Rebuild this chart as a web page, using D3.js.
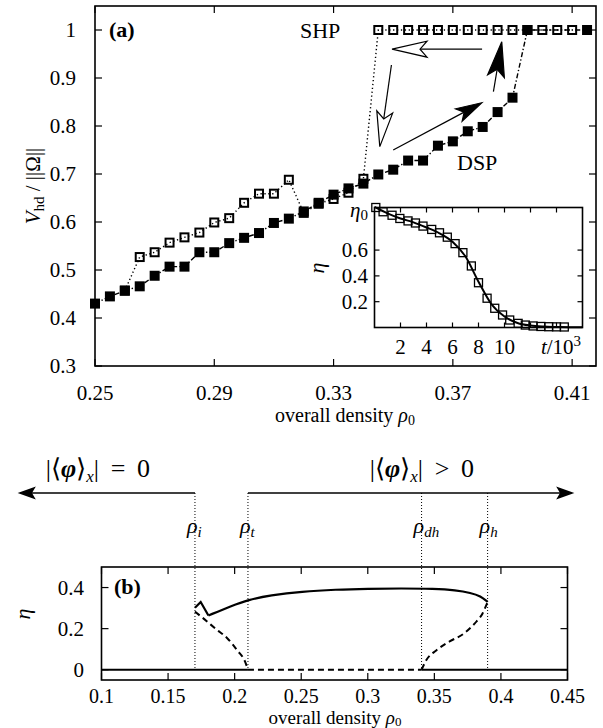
<!DOCTYPE html>
<html>
<head>
<meta charset="utf-8">
<script src="https://cdn.jsdelivr.net/npm/d3@7"></script>
<style>
body { margin: 0; background: #fff; }
svg { display: block; }
text { font-family: "Liberation Serif", "Times New Roman", serif; fill: #000; }
</style>
</head>
<body>
<svg width="603" height="728"></svg>
<script>
// panel (a): hysteresis loop
var dspRho = [0.25, 0.255, 0.26, 0.265, 0.27, 0.275, 0.28, 0.285, 0.29, 0.295, 0.30, 0.305, 0.31, 0.315, 0.32, 0.325, 0.33, 0.335, 0.34, 0.345, 0.35, 0.355, 0.36, 0.365, 0.37, 0.375, 0.38, 0.385, 0.39, 0.395, 0.415]
var dspV = [0.43, 0.445, 0.457, 0.466, 0.488, 0.507, 0.507, 0.537, 0.537, 0.556, 0.567, 0.577, 0.598, 0.607, 0.622, 0.640, 0.657, 0.670, 0.680, 0.699, 0.709, 0.728, 0.728, 0.759, 0.768, 0.789, 0.798, 0.829, 0.859, 1.0, 1.0]

var shpRho = [0.26, 0.265, 0.27, 0.275, 0.28, 0.285, 0.29, 0.295, 0.30, 0.305, 0.31, 0.315, 0.32, 0.325, 0.33, 0.335, 0.34, 0.345, 0.35, 0.355, 0.36, 0.365, 0.37, 0.375, 0.38, 0.385, 0.39, 0.395, 0.40, 0.405, 0.41]
var shpV = [0.457, 0.527, 0.537, 0.557, 0.568, 0.578, 0.599, 0.608, 0.640, 0.659, 0.659, 0.688, 0.619, 0.638, 0.648, 0.661, 0.690, 1.0, 1.0, 1.0, 1.0, 1.0, 1.0, 1.0, 1.0, 1.0, 1.0, 1.0, 1.0, 1.0, 1.0]

var xTicksA = [0.25, 0.29, 0.33, 0.37, 0.41]
var yTicksA = [0.3, 0.4, 0.5, 0.6, 0.7, 0.8, 0.9, 1.0]

// inset: eta(t)
var insetT = [0.1, 0.66, 1.35, 1.95, 2.58, 3.15, 3.73, 4.4, 5.0, 5.6, 6.2, 6.8, 7.45, 8.0, 8.66, 9.25, 9.85, 10.4, 11.05, 11.6, 12.2, 12.8, 13.4, 14.0, 14.6]
var insetEta = [0.93, 0.897, 0.87, 0.845, 0.826, 0.81, 0.786, 0.76, 0.734, 0.70, 0.65, 0.58, 0.477, 0.347, 0.227, 0.149, 0.097, 0.058, 0.032, 0.019, 0.012, 0.008, 0.006, 0.005, 0.004]
var fitT = [0, 1, 2, 3, 4, 5, 6, 7, 8, 9, 10, 11, 12, 13, 14, 15, 16]
var fitEta = [0.935, 0.885, 0.845, 0.815, 0.775, 0.73, 0.665, 0.55, 0.355, 0.18, 0.085, 0.035, 0.015, 0.007, 0.004, 0.002, 0.001]
var insetXTicks = [2, 4, 6, 8, 10, 12, 14]
var insetXLabels = [2, 4, 6, 8, 10]
var insetYTicks = [0.2, 0.4, 0.6]

// arrows of panel (a), in data units
var loopArrows = [
    {x1: 0.3798, y1: 0.960, x2: 0.3496, y2: 0.960, filled: false, len: 35, half: 8, notch: 7},
    {x1: 0.3494, y1: 0.927, x2: 0.3455, y2: 0.757, filled: false, len: 35, half: 8, notch: 7},
    {x1: 0.3500, y1: 0.750, x2: 0.3797, y2: 0.8485, filled: true, len: 26, half: 7, notch: 6},
    {x1: 0.3836, y1: 0.8715, x2: 0.3864, y2: 0.9756, filled: true, len: 35, half: 8.5, notch: 7}
]

// panel (b): bifurcation diagram
var stableRho = [0.1702, 0.1745, 0.1803, 0.1977, 0.21, 0.2267, 0.2505, 0.276, 0.30, 0.325, 0.35, 0.366, 0.3775, 0.3847, 0.39]
var stableEta = [0.302, 0.33, 0.264, 0.311, 0.34, 0.362, 0.381, 0.39, 0.394, 0.396, 0.394, 0.387, 0.374, 0.358, 0.33]
var unstLeftRho = [0.1702, 0.1774, 0.186, 0.1948, 0.202, 0.2079, 0.21]
var unstLeftEta = [0.283, 0.245, 0.198, 0.151, 0.094, 0.038, 0]
var unstRightRho = [0.3404, 0.344, 0.3514, 0.3615, 0.3717, 0.3804, 0.3862, 0.39]
var unstRightEta = [0, 0.047, 0.094, 0.138, 0.174, 0.226, 0.274, 0.33]
var critRho = [0.1702, 0.21, 0.3404, 0.39]
var critNames = ['i', 't', 'dh', 'h']
var xTicksB = [0.1, 0.15, 0.2, 0.25, 0.3, 0.35, 0.4, 0.45]
var yTicksB = [0, 0.2, 0.4]

var svg = d3.select('svg')

function pts (xs, ys) {
    return xs.map(function (d, i) { return [d, ys[i]] })
}

function ticks (g, x, y, xt, yt, len) {
    var x0 = x.range()[0], x1 = x.range()[1]
    var y0 = y.range()[0], y1 = y.range()[1]
    xt.forEach(function (v) {
        g.append('line').attr('x1', x(v)).attr('x2', x(v)).attr('y1', y0).attr('y2', y0 - len)
        g.append('line').attr('x1', x(v)).attr('x2', x(v)).attr('y1', y1).attr('y2', y1 + len)
    })
    yt.forEach(function (v) {
        g.append('line').attr('y1', y(v)).attr('y2', y(v)).attr('x1', x0).attr('x2', x0 + len)
        g.append('line').attr('y1', y(v)).attr('y2', y(v)).attr('x1', x1).attr('x2', x1 - len)
    })
    g.selectAll('line').attr('stroke', '#000').attr('stroke-width', 1.2)
    g.append('rect')
        .attr('x', x0).attr('y', y1)
        .attr('width', x1 - x0).attr('height', y0 - y1)
        .attr('fill', 'none').attr('stroke', '#000').attr('stroke-width', 1.6)
}

function arrow (g, sx, sy, tx, ty, len, half, notch, filled, sw) {
    var a = Math.atan2(ty - sy, tx - sx)
    var ux = Math.cos(a), uy = Math.sin(a)
    var nx = -uy, ny = ux
    var bx = tx - ux * len, by = ty - uy * len
    var mx = tx - ux * (len - notch), my = ty - uy * (len - notch)
    g.append('line').attr('x1', sx).attr('y1', sy).attr('x2', mx).attr('y2', my)
        .attr('stroke', '#000').attr('stroke-width', sw)
    g.append('path')
        .attr('d', 'M' + tx + ',' + ty + 'L' + (bx + nx * half) + ',' + (by + ny * half) +
            'L' + mx + ',' + my + 'L' + (bx - nx * half) + ',' + (by - ny * half) + 'Z')
        .attr('fill', filled ? '#000' : '#fff')
        .attr('stroke', '#000').attr('stroke-width', sw)
        .attr('stroke-linejoin', 'miter')
}

// ---------- panel (a) ----------
var x = d3.scaleLinear().domain([0.25, 0.418]).range([95, 596])
var y = d3.scaleLinear().domain([0.3, 1.05]).range([366, 6])
var gA = svg.append('g')

var line = d3.line().x(function (d) { return x(d[0]) }).y(function (d) { return y(d[1]) })

gA.append('path').datum(pts(shpRho, shpV)).attr('d', line)
    .attr('fill', 'none').attr('stroke', '#000').attr('stroke-width', 1.4)
    .attr('stroke-dasharray', '1.3,2.6')
gA.append('path').datum(pts(dspRho, dspV)).attr('d', line)
    .attr('fill', 'none').attr('stroke', '#000').attr('stroke-width', 1.4)
    .attr('stroke-dasharray', '5,2.2,1.4,2.2')

gA.selectAll('rect.dsp').data(pts(dspRho, dspV)).enter().append('rect')
    .attr('class', 'dsp')
    .attr('x', function (d) { return x(d[0]) - 5 })
    .attr('y', function (d) { return y(d[1]) - 5 })
    .attr('width', 10).attr('height', 10).attr('fill', '#000')
gA.selectAll('rect.shp').data(pts(shpRho, shpV)).enter().append('rect')
    .attr('class', 'shp')
    .attr('x', function (d) { return x(d[0]) - 4 })
    .attr('y', function (d) { return y(d[1]) - 4 })
    .attr('width', 8).attr('height', 8)
    .attr('fill', 'none').attr('stroke', '#000').attr('stroke-width', 2)

loopArrows.forEach(function (a) {
    arrow(gA, x(a.x1), y(a.y1), x(a.x2), y(a.y2), a.len, a.half, a.notch, a.filled, 1.2)
})

ticks(gA.append('g'), x, y, xTicksA, yTicksA, 7)

gA.selectAll('text.xt').data(xTicksA).enter().append('text')
    .attr('x', function (d) { return x(d) }).attr('y', 400)
    .attr('text-anchor', 'middle').attr('font-size', 21)
    .text(function (d) { return d.toFixed(2) })
gA.selectAll('text.yt').data(yTicksA).enter().append('text')
    .attr('x', 76).attr('y', function (d) { return y(d) + 7 })
    .attr('text-anchor', 'end').attr('font-size', 21)
    .text(function (d) { return d === 1 ? '1' : d.toFixed(1) })

var xl = gA.append('text').attr('x', 345).attr('y', 422).attr('text-anchor', 'middle').attr('font-size', 20)
xl.append('tspan').text('overall density ')
xl.append('tspan').attr('font-style', 'italic').text('ρ')
xl.append('tspan').attr('font-size', 14).attr('dy', 3).text('0')

var yl = gA.append('text').attr('transform', 'translate(40,186) rotate(-90)')
    .attr('text-anchor', 'middle').attr('font-size', 21)
yl.append('tspan').attr('font-style', 'italic').text('V')
yl.append('tspan').attr('font-size', 15).attr('dy', 4).text('hd')
yl.append('tspan').attr('dy', -4).text(' / ||Ω||')

gA.append('text').attr('x', 109).attr('y', 37).attr('font-size', 22).attr('font-weight', 'bold').text('(a)')
gA.append('text').attr('x', 300).attr('y', 38).attr('font-size', 22).text('SHP')
gA.append('text').attr('x', 457).attr('y', 170).attr('font-size', 22).text('DSP')

// inset
var ix = d3.scaleLinear().domain([0, 16]).range([374.5, 582.5])
var iy = d3.scaleLinear().domain([0, 0.93]).range([327.5, 207.5])
var gI = svg.append('g')
gI.append('rect').attr('x', 374.5).attr('y', 207.5).attr('width', 208).attr('height', 120).attr('fill', '#fff')

var iline = d3.line().curve(d3.curveMonotoneX)
    .x(function (d) { return ix(d[0]) }).y(function (d) { return iy(d[1]) })
gI.append('path').datum(pts(fitT, fitEta)).attr('d', iline)
    .attr('fill', 'none').attr('stroke', '#000').attr('stroke-width', 2)
gI.selectAll('rect.pt').data(pts(insetT, insetEta)).enter().append('rect')
    .attr('class', 'pt')
    .attr('x', function (d) { return ix(d[0]) - 4 })
    .attr('y', function (d) { return iy(d[1]) - 4 })
    .attr('width', 8).attr('height', 8)
    .attr('fill', 'none').attr('stroke', '#000').attr('stroke-width', 1.3)

ticks(gI.append('g'), ix, iy, insetXTicks, insetYTicks, 5)

gI.selectAll('text.iy').data(insetYTicks).enter().append('text')
    .attr('x', 368).attr('y', function (d) { return iy(d) + 7 })
    .attr('text-anchor', 'end').attr('font-size', 21)
    .text(function (d) { return d.toFixed(1) })
var e0 = gI.append('text').attr('x', 368).attr('y', 217).attr('text-anchor', 'end').attr('font-size', 21)
e0.append('tspan').attr('font-style', 'italic').text('η')
e0.append('tspan').attr('font-size', 15).attr('dy', 3).text('0')
gI.selectAll('text.ix').data(insetXLabels).enter().append('text')
    .attr('x', function (d) { return ix(d) }).attr('y', 354)
    .attr('text-anchor', 'middle').attr('font-size', 21)
    .text(function (d) { return d })
var tl = gI.append('text').attr('x', 561).attr('y', 354).attr('text-anchor', 'middle').attr('font-size', 21)
tl.append('tspan').attr('font-style', 'italic').text('t')
tl.append('tspan').text('/10')
tl.append('tspan').attr('font-size', 15).attr('dy', -8).text('3')
gI.append('text').attr('transform', 'translate(324,268) rotate(-90)')
    .attr('text-anchor', 'middle').attr('font-size', 22).attr('font-style', 'italic').text('η')

// ---------- panel (b) ----------
var bx = d3.scaleLinear().domain([0.1, 0.45]).range([101.5, 567.5])
var by = d3.scaleLinear().domain([-0.05, 0.5]).range([680, 567])
var gB = svg.append('g')
var bline = d3.line().curve(d3.curveMonotoneX)
    .x(function (d) { return bx(d[0]) }).y(function (d) { return by(d[1]) })
var bpoly = d3.line().x(function (d) { return bx(d[0]) }).y(function (d) { return by(d[1]) })

var arrowY = 493
critRho.forEach(function (r) {
    gB.append('line').attr('x1', bx(r)).attr('x2', bx(r)).attr('y1', arrowY).attr('y2', by(0))
        .attr('stroke', '#000').attr('stroke-width', 1).attr('stroke-dasharray', '1,2')
})

// zero branch: stable outside, unstable between rho_t and rho_dh
gB.append('path').datum([[0.1, 0], [0.21, 0]]).attr('d', bpoly)
    .attr('stroke', '#000').attr('stroke-width', 2.2)
gB.append('path').datum([[0.3404, 0], [0.45, 0]]).attr('d', bpoly)
    .attr('stroke', '#000').attr('stroke-width', 2.2)
gB.append('path').datum([[0.21, 0], [0.3404, 0]]).attr('d', bpoly)
    .attr('stroke', '#000').attr('stroke-width', 2).attr('stroke-dasharray', '6,4')

gB.append('path').datum(pts(stableRho.slice(0, 3), stableEta.slice(0, 3))).attr('d', bpoly)
    .attr('fill', 'none').attr('stroke', '#000').attr('stroke-width', 2.2)
gB.append('path').datum(pts(stableRho.slice(2), stableEta.slice(2))).attr('d', bline.curve(d3.curveBasis))
    .attr('fill', 'none').attr('stroke', '#000').attr('stroke-width', 2.2)
bline.curve(d3.curveMonotoneX)
gB.append('path').datum(pts(unstLeftRho, unstLeftEta)).attr('d', bline)
    .attr('fill', 'none').attr('stroke', '#000').attr('stroke-width', 2).attr('stroke-dasharray', '6,4')
gB.append('path').datum(pts(unstRightRho, unstRightEta)).attr('d', bline)
    .attr('fill', 'none').attr('stroke', '#000').attr('stroke-width', 2).attr('stroke-dasharray', '6,4')

ticks(gB.append('g'), bx, by, xTicksB, yTicksB, 7)

gB.selectAll('text.xt').data(xTicksB).enter().append('text')
    .attr('x', function (d) { return bx(d) }).attr('y', 703)
    .attr('text-anchor', 'middle').attr('font-size', 20)
    .text(function (d) { return String(d) })
gB.selectAll('text.yt').data(yTicksB).enter().append('text')
    .attr('x', 84).attr('y', function (d) { return by(d) + 7 })
    .attr('text-anchor', 'end').attr('font-size', 21)
    .text(function (d) { return d === 0 ? '0' : d.toFixed(1) })
gB.append('text').attr('transform', 'translate(30,614) rotate(-90)')
    .attr('text-anchor', 'middle').attr('font-size', 22).attr('font-style', 'italic').text('η')
var bl = gB.append('text').attr('x', 335).attr('y', 724).attr('text-anchor', 'middle').attr('font-size', 19)
bl.append('tspan').text('overall density ')
bl.append('tspan').attr('font-style', 'italic').text('ρ')
bl.append('tspan').attr('font-size', 13).attr('dy', 2).text('0')
gB.append('text').attr('x', 114).attr('y', 594).attr('font-size', 22).attr('font-weight', 'bold').text('(b)')

critRho.forEach(function (r, i) {
    var t = gB.append('text').attr('x', bx(r) - 8).attr('y', 533).attr('font-size', 22)
    t.append('tspan').attr('font-style', 'italic').text('ρ')
    t.append('tspan').attr('font-style', 'italic').attr('font-size', 15).attr('dy', 4).text(critNames[i])
})

arrow(gB, bx(0.1702), arrowY, 20, arrowY, 14, 5, 3, true, 1.6)
arrow(gB, bx(0.21), arrowY, 572, arrowY, 14, 5, 3, true, 1.6)

function orderText (xc, sym) {
    var t = gB.append('text').attr('x', xc).attr('y', 477).attr('text-anchor', 'middle').attr('font-size', 26)
    t.append('tspan').text('|⟨')
    t.append('tspan').attr('font-style', 'italic').attr('font-weight', 'bold').text('φ')
    t.append('tspan').text('⟩')
    t.append('tspan').attr('font-style', 'italic').attr('font-size', 17).attr('dy', 5).text('x')
    t.append('tspan').attr('dy', -5).text('|\u2009 ' + sym + ' \u20090')
}
orderText(98, '=')
orderText(422, '>')
</script>
</body>
</html>
